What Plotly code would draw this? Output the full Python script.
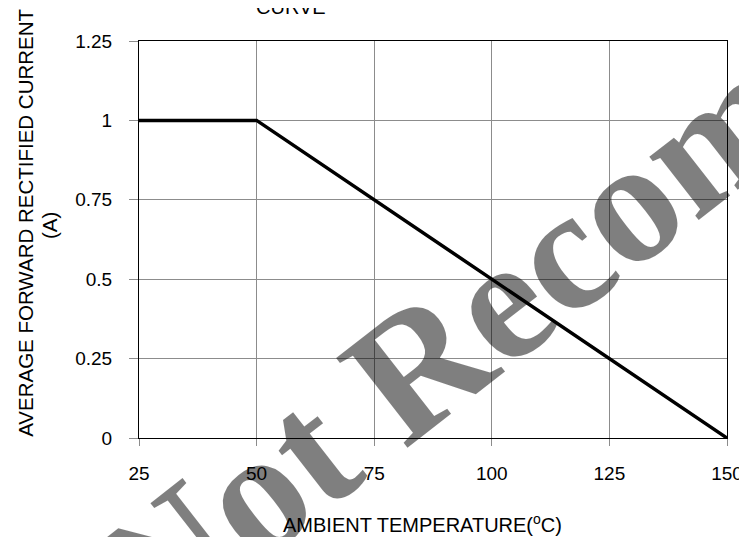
import plotly.graph_objects as go

temperature_c = [25, 50, 150]
current_a = [1.0, 1.0, 0.0]
x_ticks = [25, 50, 75, 100, 125, 150]
y_ticks = [0, 0.25, 0.5, 0.75, 1, 1.25]
y_tick_labels = ["0", "0.25", "0.5", "0.75", "1", "1.25"]

fig = go.Figure()
fig.add_trace(go.Scatter(x=temperature_c, y=current_a, mode="lines",
                         line=dict(color="black", width=3.5), showlegend=False))

font = "Liberation Sans, Arial, sans-serif"
fs = 19
fig.update_layout(
    width=747, height=537,
    margin=dict(l=131, r=17, t=33, b=107),
    paper_bgcolor="white", plot_bgcolor="white",
    font=dict(family=font, size=fs, color="black"),
    xaxis=dict(range=[25, 150], tickvals=x_ticks, ticktext=[str(v) for v in x_ticks],
               showgrid=True, gridcolor="#8c8c8c", gridwidth=1,
               showline=True, linecolor="black", linewidth=1, mirror=True,
               ticks="outside", ticklen=7, tickcolor="#8c8c8c", zeroline=False,
               tickfont=dict(size=fs), ticklabelstandoff=11, ticklabeloverflow="allow"),
    yaxis=dict(range=[0, 1.25], tickvals=y_ticks, ticktext=y_tick_labels,
               showgrid=True, gridcolor="#8c8c8c", gridwidth=1,
               showline=True, linecolor="black", linewidth=1, mirror=True,
               ticks="outside", ticklen=9, tickcolor="#8c8c8c", zeroline=False,
               tickfont=dict(size=fs), ticklabelstandoff=13),
)

fig.add_annotation(text="CURVE", xref="paper", yref="paper", x=0.258, y=1,
                   xanchor="center", yanchor="bottom", yshift=21, showarrow=False,
                   font=dict(size=20))
fig.add_annotation(text="AVERAGE FORWARD RECTIFIED CURRENT", xref="paper", yref="paper",
                   x=0, xshift=-113, y=0.542, xanchor="center", yanchor="middle",
                   textangle=-90, showarrow=False, font=dict(size=20.5))
fig.add_annotation(text="(A)", xref="paper", yref="paper",
                   x=0, xshift=-90, y=0.534, xanchor="center", yanchor="middle",
                   textangle=-90, showarrow=False, font=dict(size=20.5))
fig.add_annotation(text="AMBIENT TEMPERATURE(<sup>o</sup>C)", xref="paper", yref="paper",
                   x=0.4825, y=0, yshift=-85, xanchor="center", yanchor="middle",
                   showarrow=False, font=dict(size=20))
fig.add_annotation(text="<b>Not Recommended</b>", xref="paper", yref="paper",
                   x=0.92, y=0.70, xanchor="center", yanchor="middle",
                   showarrow=False, textangle=-38,
                   font=dict(family="Liberation Serif, Times New Roman, serif", size=175,
                             color="rgba(0,0,0,0.5)"))

fig.write_html("out.html")
